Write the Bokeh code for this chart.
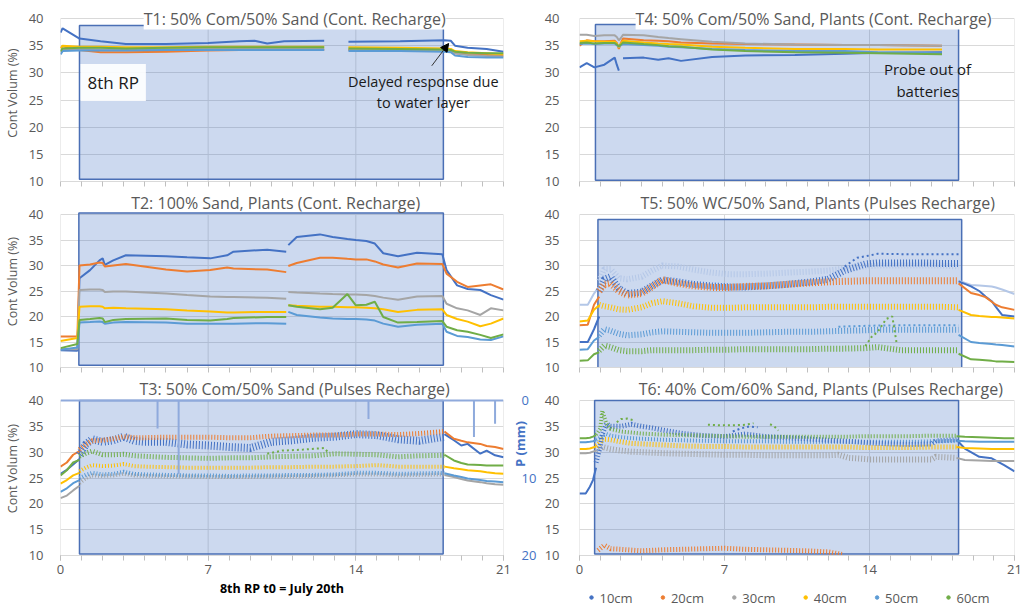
import math
from bokeh.plotting import figure
from bokeh.layouts import column, row
from bokeh.models import (Range1d, LinearAxis, FixedTicker, Label, Arrow, NormalHead)
from bokeh.core.properties import value
from bokeh.embed import file_html
from bokeh.resources import INLINE

N = float("nan")

DEPTHS = ["10cm", "20cm", "30cm", "40cm", "50cm", "60cm"]
X_TICKS = [0, 7, 14, 21]
Y_TICKS = [10, 15, 20, 25, 30, 35, 40]
P_TICKS = [0, 10, 20]

# ---------------- T1 ----------------
T1_X = [0, 0.1, 0.9, 1.9, 3.1, 5.0, 7.0, 8.5, 9.2, 9.8, 10.6, 12.5, N, 13.65, 16.1, 18.2, 18.5, 18.7, 19.3, 20.2, 21.0]
T1_10 = [37.4, 38.2, 36.3, 35.8, 35.3, 35.3, 35.5, 35.8, 35.9, 35.4, 35.8, 35.9, N, 35.7, 35.8, 36.0, 35.9, 35.0, 34.6, 34.4, 33.9]
T1_20 = [34.6, 34.9, 34.2, 33.8, 33.8, 33.9, 34.1, 34.2, 34.2, 34.2, 34.2, 34.2, N, 34.2, 34.1, 34.0, 34.0, 33.6, 33.4, 33.3, 33.2]
T1_30 = [33.8, 34.3, 34.4, 34.3, 34.3, 34.4, 34.4, 34.4, 34.4, 34.4, 34.4, 34.4, N, 34.3, 34.2, 34.1, 34.0, 33.6, 33.3, 33.1, 33.0]
T1_40 = [34.5, 35.0, 34.8, 34.8, 34.7, 34.7, 34.8, 34.8, 34.8, 34.8, 34.8, 34.8, N, 34.7, 34.6, 34.5, 34.4, 34.0, 33.8, 33.6, 33.4]
T1_50 = [33.4, 34.0, 34.1, 34.1, 34.1, 34.2, 34.2, 34.2, 34.2, 34.2, 34.2, 34.2, N, 34.0, 34.0, 33.9, 33.8, 33.2, 32.9, 32.8, 32.8]
T1_60 = [34.0, 34.5, 34.6, 34.6, 34.5, 34.6, 34.7, 34.7, 34.7, 34.7, 34.7, 34.7, N, 34.5, 34.4, 34.3, 34.2, 33.9, 33.7, 33.6, 33.6]

# ---------------- T2 ----------------
T2_X = [0, 0.8, 0.9, 1.4, 1.85, 2.0, 2.1, 2.5, 3.1, 5.0, 6.0, 7.1, 7.9, 8.2, 9.8, 10.7, N, 10.8, 11.2, 12.3, 12.9, 13.6, 14.0, 14.5, 14.9, 15.3, 16.0, 16.9, 18.1, 18.3, 18.8, 19.3, 19.9, 20.4, 21.0]
T2_10 = [13.4, 13.3, 27.5, 29.1, 31.0, 31.4, 30.1, 31.0, 32.0, 31.8, 31.6, 31.4, 32.0, 32.7, 33.1, 32.7, N, 34.0, 35.6, 36.1, 35.6, 35.2, 35.0, 34.8, 34.3, 32.4, 31.8, 32.5, 32.2, 29.1, 26.1, 25.4, 25.2, 24.2, 23.3]
T2_20 = [16.1, 16.1, 30.0, 30.2, 30.6, 30.5, 29.8, 30.0, 30.3, 29.2, 28.8, 29.1, 29.6, 29.4, 29.2, 28.7, N, 29.9, 30.5, 31.5, 31.5, 31.3, 31.2, 31.2, 30.8, 30.2, 29.6, 30.4, 30.3, 28.4, 26.8, 25.8, 26.1, 26.3, 25.3]
T2_30 = [13.6, 13.6, 25.2, 25.3, 25.3, 25.2, 24.8, 24.9, 24.9, 24.5, 24.2, 23.9, 23.8, 23.8, 23.7, 23.5, N, 24.8, 24.7, 24.5, 24.4, 24.3, 24.3, 24.2, 24.0, 23.7, 23.3, 23.9, 24.0, 22.5, 21.6, 21.2, 20.3, 21.6, 21.2]
T2_40 = [15.2, 15.8, 21.9, 22.0, 22.0, 21.9, 21.6, 21.7, 21.6, 21.4, 21.2, 21.0, 20.8, 20.8, 20.9, 20.9, N, 22.2, 22.1, 21.9, 21.9, 21.8, 21.8, 21.7, 21.6, 21.4, 20.9, 21.3, 21.4, 20.3, 19.5, 19.0, 18.1, 18.6, 19.6]
T2_50 = [13.5, 13.9, 18.8, 18.9, 19.0, 18.9, 18.6, 18.8, 18.9, 18.8, 18.6, 18.6, 18.6, 18.6, 18.7, 18.6, N, 20.9, 20.3, 19.8, 19.6, 19.5, 19.5, 19.4, 19.2, 18.6, 18.0, 18.4, 18.6, 17.0, 16.2, 16.0, 15.5, 15.4, 16.1]
T2_60 = [13.8, 14.6, 19.3, 19.5, 19.7, 19.6, 18.9, 19.3, 19.5, 19.6, 19.3, 19.2, 19.5, 19.7, 19.9, 19.9, N, 22.2, 21.9, 21.4, 21.7, 24.4, 22.2, 22.3, 22.9, 19.9, 18.8, 18.9, 19.1, 18.0, 17.3, 17.0, 16.4, 15.8, 16.5]

# ---------------- T3 ----------------
T3_PRE_X = [0, 0.3, 0.6, 0.9]
T3_PRE_10 = [25.8, 26.6, 27.6, 28.7]
T3_PRE_20 = [27.2, 28.0, 29.5, 30.2]
T3_PRE_30 = [21.1, 21.6, 22.6, 23.5]
T3_PRE_40 = [23.9, 24.6, 25.5, 26.0]
T3_PRE_50 = [22.3, 23.0, 24.0, 24.6]
T3_PRE_60 = [25.5, 26.5, 28.0, 28.5]
T3_IN_X = [0.9, 1.2, 1.5, 2.0, 2.5, 3.0, 3.5, 4.0, 5.0, 6.0, 7.0, 8.0, 9.0, 10.0, 11.0, 12.0, 13.0, 14.0, 15.0, 16.0, 17.0, 18.2]
T3_IN_10 = [29.5, 31.5, 32.5, 32.0, 32.3, 33.0, 32.2, 32.0, 32.0, 31.5, 31.3, 31.0, 30.8, 32.0, 32.3, 32.8, 33.0, 33.5, 33.3, 32.5, 32.2, 33.0]
T3_IN_20 = [30.5, 31.5, 32.2, 32.3, 32.6, 33.0, 32.8, 32.8, 32.9, 32.9, 32.9, 32.8, 32.8, 33.1, 33.2, 33.3, 33.3, 33.5, 33.5, 33.4, 33.6, 34.0]
T3_IN_30 = [24.0, 25.0, 25.5, 25.4, 25.5, 25.8, 25.5, 25.4, 25.3, 25.3, 25.2, 25.2, 25.2, 25.3, 25.3, 25.4, 25.5, 25.7, 25.7, 25.5, 25.6, 25.7]
T3_IN_40 = [26.3, 27.0, 27.5, 27.3, 27.4, 27.7, 27.3, 27.2, 27.1, 27.0, 27.0, 27.0, 27.0, 27.1, 27.1, 27.2, 27.2, 27.3, 27.5, 27.2, 27.2, 27.2]
T3_IN_50 = [25.0, 25.6, 26.0, 25.7, 25.8, 26.2, 25.8, 25.7, 25.6, 25.5, 25.5, 25.4, 25.5, 25.5, 25.6, 25.6, 25.7, 26.0, 26.0, 25.8, 25.9, 26.0]
T3_IN_60 = [29.2, 29.8, 30.2, 29.5, 29.5, 29.6, 29.3, 29.2, 29.0, 28.9, 28.8, 28.9, 28.9, 29.1, 29.2, 29.3, 29.7, 29.6, 29.5, 29.1, 29.3, 29.4]
T3_POST_X = [18.2, 18.65, 19.0, 19.3, 19.9, 20.2, 20.6, 21.0]
T3_POST_10 = [33.5, 32.3, 31.3, 31.6, 29.7, 30.3, 29.4, 29.0]
T3_POST_20 = [34.0, 32.6, 32.2, 31.9, 31.6, 31.2, 31.0, 30.6]
T3_POST_30 = [25.6, 25.2, 24.8, 24.5, 24.2, 24.0, 23.8, 23.7]
T3_POST_40 = [27.2, 26.9, 26.7, 26.5, 26.3, 26.1, 25.9, 25.8]
T3_POST_50 = [25.9, 25.5, 25.2, 24.9, 24.6, 24.4, 24.3, 24.2]
T3_POST_60 = [29.5, 28.4, 27.9, 27.6, 27.5, 27.4, 27.4, 27.4]
T3_60B_X = [9.8, 10.5, 11.5, 12.5, 12.7]
T3_60B = [29.7, 30.3, 30.5, 30.8, 29.9]
# precipitation (secondary axis, mm)
P_LINE_X = [0, 21]
P_LINE = [0, 0]
P_X = [4.6, 5.6, 14.6, 19.6, 20.6]
P_ZERO = [0, 0, 0, 0, 0]
P_MM = [3.6, 9.5, 2.4, 4.7, 3.0]

# ---------------- T4 ----------------
T4_X = [0, 0.35, 0.72, 1.2, 1.7, 1.8, 1.9, 2.0, 2.1, 3.1, 3.8, 4.3, 4.9, 6.4, 8.0, 10.4, 12.8, 14.4, 17.5]
T4_10 = [31.0, 31.8, 31.0, 31.5, 32.8, 31.5, 30.4, N, 32.7, 32.8, 32.4, 32.7, 32.2, 32.9, 33.2, 33.3, 33.5, 33.7, 33.8]
T4_20 = [35.0, 36.0, 35.8, 35.8, 35.9, 35.5, 34.4, 35.5, 36.3, 36.0, 35.9, 35.8, 35.6, 35.4, 35.3, 35.2, 35.1, 35.1, 35.0]
T4_30 = [37.0, 37.0, 36.8, 36.9, 36.9, 36.6, 36.0, 36.4, 37.0, 36.9, 36.6, 36.4, 36.2, 35.7, 35.4, 35.2, 35.1, 35.1, 35.0]
T4_40 = [35.8, 35.9, 35.8, 35.7, 35.7, 35.4, 34.6, 35.4, 35.9, 35.6, 35.4, 35.3, 35.2, 34.8, 34.6, 34.4, 34.4, 34.3, 34.3]
T4_50 = [35.3, 35.4, 35.3, 35.4, 35.4, 35.1, 34.8, 35.1, 35.3, 35.1, 35.0, 34.8, 34.7, 34.4, 34.2, 34.0, 34.0, 33.8, 33.6]
T4_60 = [35.5, 35.6, 35.4, 35.5, 35.5, 35.2, 34.9, 35.2, 35.6, 35.3, 35.1, 34.9, 34.8, 34.3, 34.0, 33.8, 33.7, 33.6, 33.4]

# ---------------- T5 ----------------
T5_PRE_X = [0, 0.4, 0.7, 0.95]
T5_PRE_10 = [15.0, 15.0, 17.5, 20.0]
T5_PRE_20 = [18.3, 18.4, 22.3, 23.9]
T5_PRE_30 = [22.3, 22.3, 24.5, 25.9]
T5_PRE_40 = [19.0, 19.2, 21.3, 22.2]
T5_PRE_50 = [13.5, 13.6, 15.3, 16.0]
T5_PRE_60 = [11.3, 11.4, 12.6, 13.0]
T5_IN_X = [0.95, 1.2, 1.5, 1.9, 2.3, 3.0, 3.5, 4.0, 4.75, 5.5, 6.4, 7.2, 8.0, 9.0, 10.0, 11.2, 12.0, 12.8, 13.8, 14.4, 15.5, 16.5, 17.5, 18.3]
T5_IN_10 = [25.0, 27.3, 27.8, 25.5, 24.5, 24.8, 26.0, 27.2, 26.8, 26.3, 26.0, 25.8, 25.8, 26.0, 26.3, 26.8, 27.3, 29.0, 30.3, 30.5, 30.5, 30.5, 30.4, 30.4]
T5_IN_20 = [25.0, 26.3, 26.5, 25.0, 24.2, 24.5, 25.8, 27.2, 26.5, 26.0, 25.7, 25.7, 25.9, 26.0, 26.3, 26.6, 26.8, 26.9, 27.0, 27.0, 27.0, 27.0, 27.0, 27.0]
T5_IN_30 = [27.0, 29.3, 29.3, 27.5, 27.3, 27.8, 29.0, 30.0, 29.8, 29.2, 28.6, 28.3, 28.3, 28.4, 28.6, 28.8, 29.0, 29.4, 29.8, 30.0, 30.0, 30.0, 30.0, 29.8]
T5_IN_40 = [22.3, 22.0, 21.8, 21.4, 21.3, 21.8, 22.6, 23.0, 22.6, 22.0, 21.7, 21.7, 21.8, 21.8, 21.8, 21.8, 21.9, 21.9, 21.9, 21.9, 21.9, 21.9, 21.9, 21.8]
T5_IN_50 = [16.3, 17.5, 17.2, 16.6, 16.3, 16.5, 16.9, 17.1, 17.0, 16.9, 16.8, 16.8, 16.8, 16.9, 17.0, 17.0, 17.1, 17.2, 17.3, 17.4, 17.4, 17.4, 17.4, 17.4]
T5_IN_60 = [13.3, 14.3, 14.0, 13.4, 13.2, 13.2, 13.4, 13.4, 13.4, 13.4, 13.5, 13.5, 13.6, 13.6, 13.6, 13.6, 13.7, 13.7, 13.8, 14.0, 13.4, 13.4, 13.4, 13.4]
T5_POST_X = [18.3, 18.9, 19.3, 19.6, 19.9, 20.1, 20.4, 21.0]
T5_POST_10 = [26.9, 25.9, 25.0, 23.9, 23.0, 21.9, 20.3, 20.0]
T5_POST_20 = [26.5, 24.6, 24.2, 23.8, 22.9, 22.3, 21.8, 21.3]
T5_POST_30 = [27.0, 26.2, 26.1, 26.0, 25.9, 25.7, 25.3, 24.4]
T5_POST_40 = [21.3, 20.3, 20.1, 20.0, 19.9, 19.9, 19.8, 19.6]
T5_POST_50 = [16.4, 15.0, 14.8, 14.7, 14.6, 14.5, 14.4, 14.1]
T5_POST_60 = [12.7, 11.6, 11.5, 11.4, 11.3, 11.2, 11.2, 11.1]
T5_10U_X = [12.8, 13.4, 13.8, 14.4, 16.0, 18.3]
T5_10U = [29.8, 31.5, 31.8, 32.3, 32.2, 32.2]
T5_50U_X = [12.5, 14.0, 16.0, 18.3]
T5_50U = [18.0, 18.2, 18.3, 18.3]
T5_60E_X = [13.8, 14.1, 14.4, 14.8, 15.1, 15.3]
T5_60E = [14.2, 16.0, 17.0, 19.5, 20.0, 15.0]

# ---------------- T6 ----------------
T6_PRE_X = [0, 0.3, 0.5, 0.65, 0.8]
T6_PRE_10 = [22.0, 22.0, 23.3, 24.6, 27.0]
T6_PRE_30 = [29.8, 29.8, 29.9, 30.1, 30.3]
T6_PRE_40 = [30.6, 30.6, 30.7, 30.9, 31.1]
T6_PRE_50 = [31.9, 31.9, 32.0, 32.1, 32.3]
T6_PRE_60 = [32.7, 32.7, 32.8, 33.0, 33.3]
T6_IN_X = [0.8, 1.0, 1.1, 1.3, 1.5, 2.0, 2.5, 3.0, 3.5, 4.0, 5.0, 6.0, 7.0, 8.0, 9.0, 10.0, 11.0, 12.0, 12.5, 13.0, 13.7, 14.0, 15.0, 16.0, 17.0, 17.2, 18.2]
T6_IN_10 = [28.0, 31.0, 33.5, 35.5, 35.0, 35.0, 35.4, 35.0, 34.7, 34.3, 33.6, 33.2, 33.0, 33.5, 33.0, 32.8, 32.6, 32.3, 32.2, 32.1, 31.9, 31.8, 31.6, 31.5, 31.6, 32.2, 32.4]
T6_IN_30 = [30.3, 30.8, 31.0, 30.8, 30.6, 30.3, 30.1, 30.0, 29.9, 29.8, 29.7, 29.6, 29.5, 29.5, 29.4, 29.4, 29.4, 29.4, 29.5, 28.9, 28.7, 28.6, 28.6, 28.6, 28.6, 29.1, 28.9]
T6_IN_40 = [31.2, 31.8, 32.5, 32.5, 32.4, 32.0, 31.7, 31.6, 31.5, 31.4, 31.2, 31.1, 31.1, 31.0, 31.0, 31.0, 31.0, 31.0, 31.0, 31.0, 30.9, 30.9, 30.9, 30.9, 31.0, 31.0, 31.0]
T6_IN_50 = [32.4, 32.8, 33.2, 33.5, 33.2, 32.9, 32.7, 32.6, 32.5, 32.4, 32.3, 32.2, 32.1, 32.1, 32.1, 32.0, 32.0, 32.0, 32.0, 32.0, 32.0, 32.0, 32.0, 32.0, 32.1, 32.1, 32.2]
T6_IN_60 = [33.4, 34.5, 38.0, 35.5, 34.5, 34.0, 33.8, 33.6, 33.5, 33.4, 33.3, 33.2, 33.1, 33.0, 33.0, 33.0, 33.0, 33.0, 33.0, 33.0, 33.1, 33.1, 33.1, 33.1, 33.2, 33.2, 33.2]
T6_20_X = [0.9, 1.2, 1.5, 2.0, 3.0, 4.0, 5.0, 6.0, 7.0, 8.0, 9.0, 10.0, 11.0, 12.0, 12.7]
T6_20 = [11.0, 12.0, 11.3, 11.2, 10.9, 11.1, 11.2, 11.3, 11.4, 11.2, 11.1, 11.0, 10.9, 10.7, 10.2]
T6_POST_X = [18.2, 18.6, 19.3, 19.9, 20.5, 21.0]
T6_POST_10 = [32.4, 30.7, 29.1, 28.8, 27.5, 26.3]
T6_POST_30 = [28.9, 28.5, 28.4, 28.3, 28.3, 28.3]
T6_POST_40 = [31.0, 30.8, 30.7, 30.6, 30.6, 30.6]
T6_POST_50 = [32.2, 32.1, 32.0, 32.0, 32.0, 32.0]
T6_POST_60 = [33.1, 33.0, 32.9, 32.8, 32.7, 32.7]
T6_60E1_X = [1.8, 2.0, 2.3, 2.6]
T6_60E1 = [35.8, 36.4, 36.5, 36.2]
T6_60E2_X = [6.2, 6.8, 7.4, 8.0, 8.4]
T6_60E2 = [35.3, 35.2, 35.2, 35.3, 35.6]
T6_60E3_X = [9.2, 9.4, 9.6]
T6_60E3 = [35.4, 35.0, 34.2]
T6_10E_X = [7.4, 7.8, 8.2, 8.6]
T6_10E = [34.0, 34.6, 35.0, 34.8]

# recharge period shading: left, right, bottom, top
SHADE = {
    "T1": [0.9, 18.15, 10.4, 38.7],
    "T2": [0.87, 18.15, 10.45, 40.3],
    "T3": [0.9, 18.14, 10.3, 40.0],
    "T4": [0.77, 18.3, 10.25, 38.9],
    "T5": [0.89, 18.45, 9.7, 39.0],
    "T6": [0.73, 18.3, 10.3, 40.0],
}

TITLES = {
    "T1": "T1: 50% Com/50% Sand (Cont. Recharge)",
    "T2": "T2: 100% Sand, Plants (Cont. Recharge)",
    "T3": "T3: 50% Com/50% Sand (Pulses Recharge)",
    "T4": "T4: 50% Com/50% Sand, Plants (Cont. Recharge)",
    "T5": "T5: 50% WC/50% Sand, Plants (Pulses Recharge)",
    "T6": "T6: 40% Com/60% Sand, Plants (Pulses Recharge)",
}
TITLE_X = {"T1": 11.1, "T2": 10.2, "T3": 11.1, "T4": 11.3, "T5": 11.5, "T6": 11.65}

# ---------------- styling / layout ----------------
FONT = "Open Sans"
GREY = "#595959"
COL = {"10cm": "#4472C4", "20cm": "#ED7D31", "30cm": "#A5A5A5",
       "40cm": "#FFC000", "50cm": "#5B9BD5", "60cm": "#70AD47"}
PALE = "#B4C7E7"
WIDTHS = [541, 481]
BORDER_L = [60, 38]
BORDER_R = [38, 8]
YLAB_STANDOFF = [11, 14]
DATA_PX = [163, 153, 155]      # pixel height of the 10..40 span
EXTRA_PX = [17, 22, 22]        # blank room above 40 (for the chart titles)
TITLE_OFF = [0, 12, 12]
BOTTOM = [10, 10, 51]
LEG_H = 23
LEG_Y = 9
LEG_FRAME = [579, 1014]        # page pixels of the right-hand plot frame
LEG_X0 = 591
LEG_STEP = 71.4


def make_fig(col, r, key, bottom):
    top_val = 40 + 30.0 * EXTRA_PX[r] / DATA_PX[r]
    h = 1 + DATA_PX[r] + EXTRA_PX[r] + bottom
    p = figure(width=WIDTHS[col], height=h,
               x_range=Range1d(0, 21), y_range=Range1d(10, top_val),
               output_backend="svg", toolbar_location=None,
               min_border_left=BORDER_L[col], min_border_right=BORDER_R[col],
               min_border_top=1, min_border_bottom=bottom)
    p.outline_line_color = None
    p.background_fill_color = "white"
    p.border_fill_color = "white"
    p.xaxis.ticker = FixedTicker(ticks=X_TICKS if r == 2 else [], minor_ticks=list(range(22)))
    p.xaxis.axis_line_color = "#D9D9D9"
    p.xaxis.major_tick_line_color = "#BFBFBF"
    p.xaxis.minor_tick_line_color = "#BFBFBF"
    p.xaxis.major_tick_in = 0
    p.xaxis.major_tick_out = 5
    p.xaxis.minor_tick_in = 0
    p.xaxis.minor_tick_out = 5
    p.xaxis.major_label_text_font = FONT
    p.xaxis.major_label_text_font_size = "13px"
    p.xaxis.major_label_text_color = GREY
    p.xaxis.major_label_standoff = 4
    p.xgrid.grid_line_color = None
    p.yaxis.ticker = FixedTicker(ticks=Y_TICKS)
    p.ygrid.ticker = FixedTicker(ticks=Y_TICKS)
    p.ygrid.grid_line_color = "#D9D9D9"
    p.yaxis.axis_line_color = None
    p.yaxis.major_tick_line_color = None
    p.yaxis.minor_tick_line_color = None
    p.yaxis.major_label_text_font = FONT
    p.yaxis.major_label_text_font_size = "13px"
    p.yaxis.major_label_text_color = GREY
    p.yaxis.major_label_standoff = YLAB_STANDOFF[col]
    if col == 0:
        p.yaxis.axis_label = "Cont Volum  (%)"
        p.yaxis.axis_label_text_font = FONT
        p.yaxis.axis_label_text_font_size = "12.5px"
        p.yaxis.axis_label_text_font_style = "normal"
        p.yaxis.axis_label_text_color = GREY
        p.yaxis.axis_label_standoff = 5
    # vertical grid lines, only over the 10..40 span
    p.segment(x0=X_TICKS, x1=X_TICKS, y0=[Y_TICKS[0]] * len(X_TICKS),
              y1=[Y_TICKS[-1]] * len(X_TICKS), line_color="#D9D9D9", line_width=1,
              level="underlay")
    s = SHADE[key]
    p.quad(left=[s[0]], right=[s[1]], bottom=[s[2]], top=[s[3]],
           fill_color="#4472C4", fill_alpha=0.27,
           line_color="#4A6FB5", line_width=1.5)
    p.add_layout(Label(x=TITLE_X[key], y=40, y_offset=TITLE_OFF[r],
                       text=TITLES[key], text_align="center", text_baseline="middle",
                       text_font=FONT, text_font_size="16px", text_color=GREY,
                       background_fill_color="white" if r == 0 else None))
    return p


def lines(p, x, series, width=2.0):
    for d, y in series:
        p.line(x, y, line_color=COL.get(d, d), line_width=width)


def bands(p, x, series):
    for d, y, w in series:
        p.line(x, y, line_color=COL.get(d, d), line_width=w, line_dash="1 2")


def dots(p, x, y, color):
    p.line(x, y, line_color=COL.get(color, color), line_width=2, line_dash="2 3")


# ---- T1 ----
p1 = make_fig(0, 0, "T1", BOTTOM[0])
lines(p1, T1_X, [("10cm", T1_10), ("20cm", T1_20), ("30cm", T1_30),
                 ("40cm", T1_40), ("50cm", T1_50), ("60cm", T1_60)])
p1.add_layout(Label(x=0.95, y=28.2, text="8th RP", text_font=FONT, text_font_size="17px",
                    text_color="#1a1a1a", text_baseline="middle",
                    background_fill_color="white", background_fill_alpha=0.9, padding=7))
p1.add_layout(Label(x=17.2, y=28.4, text="Delayed response due", text_align="center",
                    text_baseline="middle", text_font=FONT, text_font_size="14.5px",
                    text_color="#1a1a1a"))
p1.add_layout(Label(x=17.2, y=24.5, text="to water layer", text_align="center",
                    text_baseline="middle", text_font=FONT, text_font_size="14.5px",
                    text_color="#1a1a1a"))
p1.add_layout(Arrow(end=NormalHead(size=8, fill_color="black", line_color="black"),
                    x_start=17.6, y_start=31.3, x_end=18.4, y_end=35.4,
                    line_color="#333333", line_width=1))

# ---- T2 ----
p2 = make_fig(0, 1, "T2", BOTTOM[1])
lines(p2, T2_X, [("10cm", T2_10), ("20cm", T2_20), ("30cm", T2_30),
                 ("40cm", T2_40), ("50cm", T2_50), ("60cm", T2_60)])

# ---- T3 ----
p3 = make_fig(0, 2, "T3", BOTTOM[2])
p_top = (40 - p3.y_range.end) * (P_TICKS[-1] / 30.0)
p3.extra_y_ranges = {"p": Range1d(P_TICKS[-1], p_top)}
pax = LinearAxis(y_range_name="p", ticker=FixedTicker(ticks=P_TICKS),
                 axis_label="P (mm)", axis_line_color=None,
                 major_tick_line_color=None, minor_tick_line_color=None,
                 major_label_text_color="#4472C4", major_label_text_font=FONT,
                 major_label_text_font_size="13px", major_label_standoff=12,
                 axis_label_text_color="#4472C4", axis_label_text_font=FONT,
                 axis_label_text_font_size="13px", axis_label_text_font_style="bold",
                 axis_label_standoff=-19, axis_label_orientation=math.pi / 2)
p3.add_layout(pax, "right")
lines(p3, T3_PRE_X, [("10cm", T3_PRE_10), ("20cm", T3_PRE_20), ("30cm", T3_PRE_30),
                     ("40cm", T3_PRE_40), ("50cm", T3_PRE_50), ("60cm", T3_PRE_60)])
bands(p3, T3_IN_X, [("10cm", T3_IN_10, 8), ("20cm", T3_IN_20, 5), ("30cm", T3_IN_30, 4),
                    ("40cm", T3_IN_40, 4), ("50cm", T3_IN_50, 4), ("60cm", T3_IN_60, 5)])
dots(p3, T3_60B_X, T3_60B, "60cm")
lines(p3, T3_POST_X, [("10cm", T3_POST_10), ("20cm", T3_POST_20), ("30cm", T3_POST_30),
                      ("40cm", T3_POST_40), ("50cm", T3_POST_50), ("60cm", T3_POST_60)])
p3.line(P_LINE_X, P_LINE, y_range_name="p", line_color="#8FAADC", line_width=2)
p3.segment(x0=P_X, x1=P_X, y0=P_ZERO, y1=P_MM, y_range_name="p",
           line_color="#8FAADC", line_width=2)
p3.xaxis.axis_label = "8th RP t0 = July 20th"
p3.xaxis.axis_label_text_font = FONT
p3.xaxis.axis_label_text_font_size = "12.5px"
p3.xaxis.axis_label_text_font_style = "bold"
p3.xaxis.axis_label_text_color = "black"
p3.xaxis.axis_label_standoff = 3

# ---- T4 ----
p4 = make_fig(1, 0, "T4", BOTTOM[0])
lines(p4, T4_X, [("10cm", T4_10), ("20cm", T4_20), ("30cm", T4_30),
                 ("40cm", T4_40), ("50cm", T4_50), ("60cm", T4_60)])
p4.add_layout(Label(x=16.8, y=30.7, text="Probe out of", text_align="center",
                    text_baseline="middle", text_font=FONT, text_font_size="15px",
                    text_color="#1a1a1a"))
p4.add_layout(Label(x=16.8, y=26.6, text="batteries", text_align="center",
                    text_baseline="middle", text_font=FONT, text_font_size="15px",
                    text_color="#1a1a1a"))

# ---- T5 ----
p5 = make_fig(1, 1, "T5", BOTTOM[1])
lines(p5, T5_PRE_X, [("10cm", T5_PRE_10), ("20cm", T5_PRE_20), (PALE, T5_PRE_30),
                     ("40cm", T5_PRE_40), ("50cm", T5_PRE_50), ("60cm", T5_PRE_60)])
bands(p5, T5_IN_X, [(PALE, T5_IN_30, 6), ("10cm", T5_IN_10, 7), ("20cm", T5_IN_20, 7),
                    ("40cm", T5_IN_40, 6), ("50cm", T5_IN_50, 6), ("60cm", T5_IN_60, 6)])
dots(p5, T5_10U_X, T5_10U, "10cm")
dots(p5, T5_50U_X, T5_50U, "50cm")
dots(p5, T5_60E_X, T5_60E, "60cm")
lines(p5, T5_POST_X, [(PALE, T5_POST_30), ("10cm", T5_POST_10), ("20cm", T5_POST_20),
                      ("40cm", T5_POST_40), ("50cm", T5_POST_50), ("60cm", T5_POST_60)])

# ---- T6 ----
p6 = make_fig(1, 2, "T6", BOTTOM[2] - LEG_H)
lines(p6, T6_PRE_X, [("10cm", T6_PRE_10), ("30cm", T6_PRE_30), ("40cm", T6_PRE_40),
                     ("50cm", T6_PRE_50), ("60cm", T6_PRE_60)])
bands(p6, T6_IN_X, [("30cm", T6_IN_30, 6), ("40cm", T6_IN_40, 5), ("50cm", T6_IN_50, 4),
                    ("10cm", T6_IN_10, 5), ("60cm", T6_IN_60, 4)])
bands(p6, T6_20_X, [("20cm", T6_20, 5)])
dots(p6, T6_60E1_X, T6_60E1, "60cm")
dots(p6, T6_60E2_X, T6_60E2, "60cm")
dots(p6, T6_60E3_X, T6_60E3, "60cm")
dots(p6, T6_10E_X, T6_10E, "10cm")
lines(p6, T6_POST_X, [("10cm", T6_POST_10), ("30cm", T6_POST_30), ("40cm", T6_POST_40),
                      ("50cm", T6_POST_50), ("60cm", T6_POST_60)])

# ---- legend strip (its own small canvas; frame aligned with T6, page-pixel units) ----
pl = figure(width=WIDTHS[1], height=LEG_H, x_range=Range1d(LEG_FRAME[0], LEG_FRAME[1]),
            y_range=Range1d(0, LEG_H), x_axis_type=None, y_axis_type=None,
            output_backend="svg", toolbar_location=None, min_border=0)
pl.outline_line_color = None
pl.grid.visible = False
leg_x = [LEG_X0 + LEG_STEP * i for i in range(len(DEPTHS))]
leg_y = [LEG_Y] * len(DEPTHS)
pl.scatter(leg_x, leg_y, marker="circle", size=3.5,
           fill_color=[COL[d] for d in DEPTHS], line_color=[COL[d] for d in DEPTHS])
pl.text([x + 8 for x in leg_x], leg_y, text=DEPTHS, text_font=value(FONT),
        text_font_size="13px", text_color=GREY, text_baseline="middle")

layout = column(row(p1, p4), row(p2, p5), row(p3, column(p6, pl)))
open("out.html", "w").write(file_html(layout, INLINE))
